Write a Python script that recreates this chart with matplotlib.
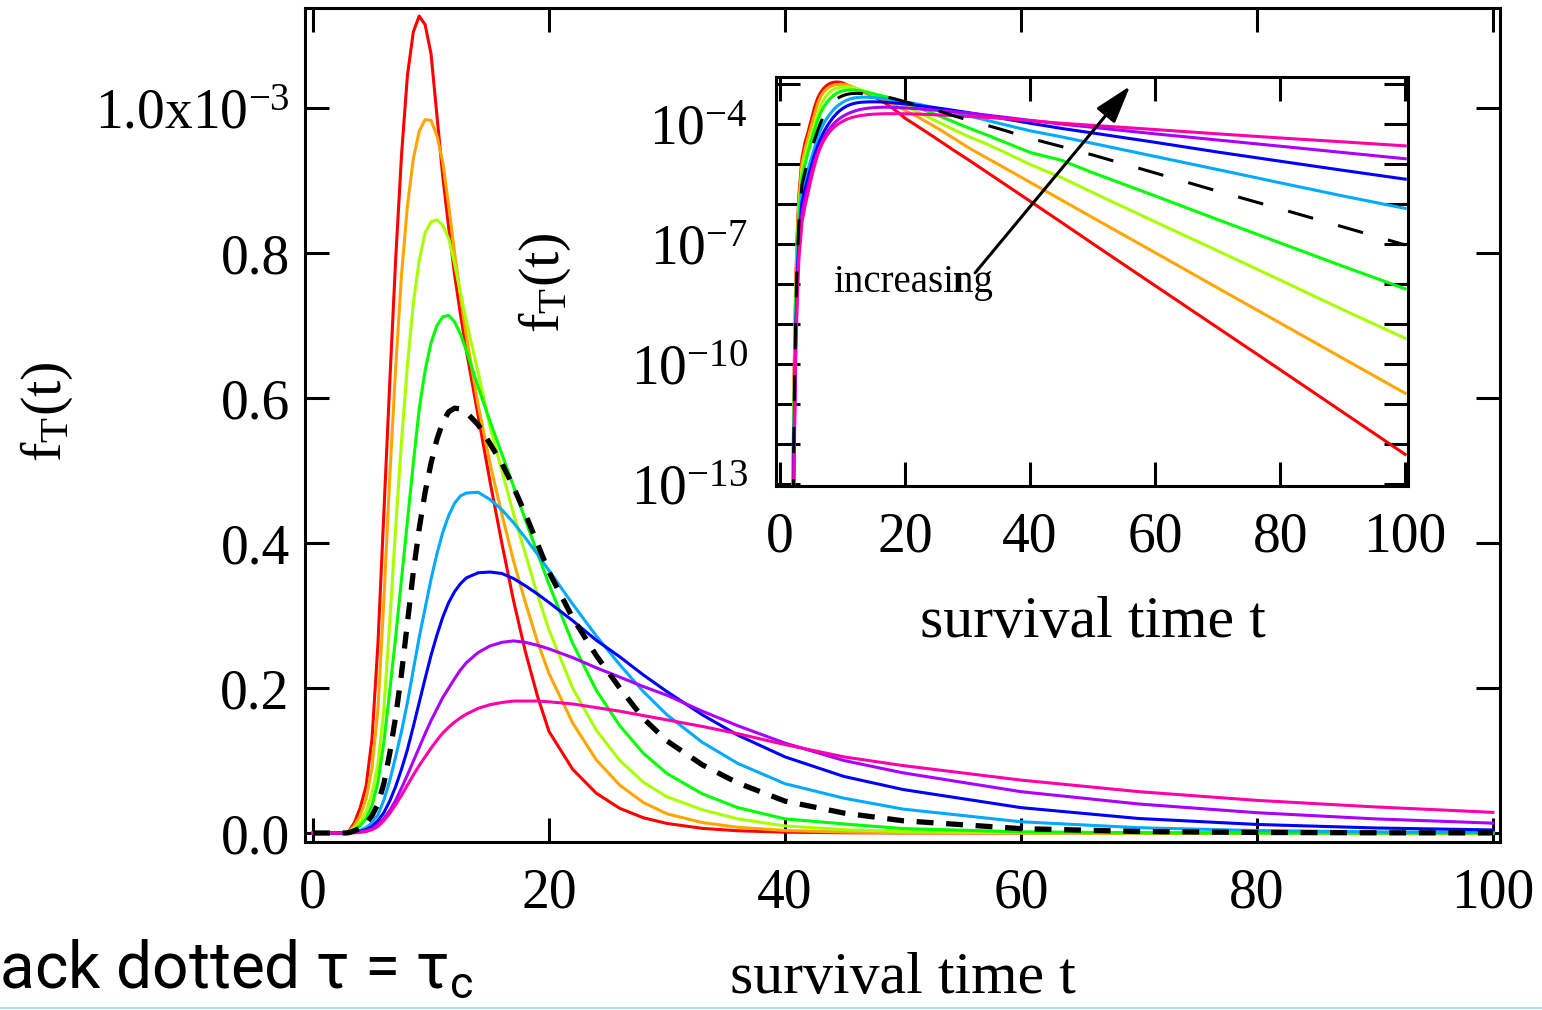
import numpy as np
import matplotlib
matplotlib.use("Agg")
import matplotlib.pyplot as plt
from matplotlib.lines import Line2D
from matplotlib.ticker import NullLocator

plt.rcParams['font.family'] = 'Liberation Serif'
plt.rcParams['mathtext.default'] = 'regular'

# survival time grid
t = [0, 1, 2, 2.25, 2.5, 2.75, 3, 3.5, 4, 4.5, 5, 5.5, 6, 6.5, 7, 7.5, 8, 8.5, 9, 9.5,
     10, 10.5, 11, 11.5, 12, 12.5, 13, 14, 15, 16, 17, 18, 19, 20, 22, 24, 26, 28, 30,
     33, 36, 40, 45, 50, 60, 70, 80, 90, 100]

# f_T(t) in units of 1e-3, one array per tau (smallest tau first)
f_red = [0, 0, 2.5e-11, 6e-8, 1e-5, 2e-4, 1.6e-3, 0.014, 0.035, 0.065, 0.13, 0.26, 0.44, 0.62,
         0.79, 0.935, 1.045, 1.105, 1.127, 1.115, 1.075, 0.99, 0.905, 0.835, 0.77, 0.715, 0.665,
         0.575, 0.485, 0.40, 0.32, 0.25, 0.19, 0.14, 0.088, 0.055, 0.034, 0.021, 0.0132,
         0.0064, 0.0031, 0.00118, 0.00035, 0.000103, 9.1e-6, 8.1e-7, 7.2e-8, 6.3e-9, 5.5e-10]
f_orange = [0, 0, 1.2e-11, 3.5e-8, 6e-6, 1.4e-4, 1.1e-3, 0.01, 0.024, 0.047, 0.09, 0.17, 0.32,
            0.49, 0.64, 0.77, 0.865, 0.93, 0.968, 0.984, 0.983, 0.962, 0.925, 0.865, 0.80, 0.74,
            0.685, 0.59, 0.51, 0.44, 0.375, 0.318, 0.265, 0.22, 0.152, 0.101, 0.066, 0.042,
            0.0265, 0.0144, 0.0079, 0.0035, 0.00127, 0.00046, 6.1e-5, 8.0e-6, 1.06e-6, 1.4e-7,
            1.86e-8]
f_lime = [0, 0, 6e-12, 2e-8, 4e-6, 9e-5, 7.5e-4, 7e-3, 0.015, 0.03, 0.055, 0.095, 0.17, 0.29,
          0.42, 0.54, 0.645, 0.73, 0.79, 0.828, 0.843, 0.846, 0.838, 0.82, 0.785, 0.745, 0.705,
          0.635, 0.56, 0.5, 0.44, 0.385, 0.33, 0.28, 0.2, 0.142, 0.1, 0.07, 0.05, 0.032, 0.0195,
          0.0098, 0.0046, 0.00195, 0.00036, 6.8e-5, 1.26e-5, 2.3e-6, 4.4e-7]
f_green = [0, 0, 3e-12, 1e-8, 2.5e-6, 6e-5, 5e-4, 4.5e-3, 0.01, 0.02, 0.038, 0.07, 0.125, 0.195,
           0.27, 0.35, 0.43, 0.51, 0.585, 0.638, 0.676, 0.70, 0.712, 0.714, 0.705, 0.688, 0.665,
           0.615, 0.568, 0.523, 0.478, 0.432, 0.387, 0.343, 0.262, 0.197, 0.148, 0.11, 0.082,
           0.054, 0.035, 0.0195, 0.0125, 0.0061, 0.0016, 0.00041, 0.000107, 2.8e-5, 7.6e-6]
f_crit = [0, 0, 1.5e-12, 6e-9, 1.5e-6, 4e-5, 3.2e-4, 3e-3, 0.0065, 0.013, 0.024, 0.04, 0.068,
          0.11, 0.16, 0.22, 0.29, 0.36, 0.42, 0.47, 0.51, 0.543, 0.567, 0.581, 0.586, 0.585,
          0.58, 0.563, 0.537, 0.51, 0.477, 0.44, 0.40, 0.36, 0.297, 0.245, 0.2, 0.158, 0.127,
          0.094, 0.069, 0.044, 0.0275, 0.0169, 0.006, 0.0021, 0.00076, 0.00027, 9.5e-5]
f_sky = [0, 0, 8e-13, 3e-9, 9e-7, 2.5e-5, 2e-4, 1.8e-3, 0.0038, 0.0075, 0.014, 0.025, 0.045,
         0.072, 0.105, 0.14, 0.18, 0.225, 0.27, 0.31, 0.35, 0.385, 0.415, 0.438, 0.455, 0.465,
         0.469, 0.47, 0.46, 0.446, 0.428, 0.407, 0.385, 0.362, 0.316, 0.272, 0.232, 0.195,
         0.163, 0.125, 0.096, 0.068, 0.048, 0.033, 0.0155, 0.0073, 0.0034, 0.0016, 0.00078]
f_blue = [0, 0, 4e-13, 1.6e-9, 5e-7, 1.5e-5, 1.2e-4, 1.1e-3, 0.0024, 0.0048, 0.009, 0.017,
          0.028, 0.044, 0.064, 0.088, 0.115, 0.147, 0.18, 0.213, 0.245, 0.273, 0.298, 0.318,
          0.333, 0.344, 0.352, 0.359, 0.36, 0.358, 0.351, 0.341, 0.33, 0.318, 0.293, 0.266,
          0.243, 0.218, 0.195, 0.163, 0.135, 0.105, 0.078, 0.06, 0.035, 0.02, 0.0118, 0.007,
          0.0042]
f_purple = [0, 0, 2e-13, 8e-10, 3e-7, 8e-6, 7e-5, 6e-4, 0.0014, 0.003, 0.006, 0.012, 0.02,
            0.031, 0.045, 0.062, 0.08, 0.099, 0.118, 0.137, 0.155, 0.171, 0.187, 0.2, 0.213,
            0.225, 0.235, 0.249, 0.258, 0.263, 0.265, 0.263, 0.259, 0.254, 0.242, 0.228, 0.215,
            0.202, 0.19, 0.168, 0.148, 0.124, 0.1, 0.083, 0.057, 0.04, 0.028, 0.0195, 0.0136]
f_pink = [0, 0, 8e-14, 3e-10, 1.5e-7, 4e-6, 4e-5, 3.5e-4, 0.0009, 0.002, 0.0045, 0.009, 0.017,
          0.027, 0.039, 0.052, 0.066, 0.08, 0.093, 0.105, 0.117, 0.128, 0.138, 0.146, 0.153,
          0.159, 0.164, 0.172, 0.177, 0.18, 0.182, 0.182, 0.182, 0.181, 0.178, 0.173, 0.168,
          0.162, 0.156, 0.147, 0.137, 0.122, 0.105, 0.093, 0.073, 0.057, 0.045, 0.036, 0.0285]

curves = [(f_red, '#ff0000'), (f_orange, '#ffa500'), (f_lime, '#a8ff00'),
          (f_green, '#00ff00'), (f_sky, '#00aaff'), (f_blue, '#0000ff'),
          (f_purple, '#aa00ff'), (f_pink, '#ff00aa')]

x_ticks = [0, 20, 40, 60, 80, 100]
y_ticks = [0.0, 0.2, 0.4, 0.6, 0.8, 1.0]
y_ticklabels = ['0.0', '0.2', '0.4', '0.6', '0.8', '1.0x10$^{-3}$']
log_decades = list(range(-13, -2))
log_labelled = [-4, -7, -10, -13]

W, H = 1542, 1010
fig = plt.figure(figsize=(W / 100, H / 100), dpi=100)


def px_box(x0, y0, x1, y1):
    return [x0 / W, 1 - y1 / H, (x1 - x0) / W, (y1 - y0) / H]


def style_axes(a, xpad, ypad):
    for s in a.spines.values():
        s.set_linewidth(2.2)
    a.tick_params(direction='in', length=17, width=2.2, top=True, right=True,
                  labelsize=40, colors='k')
    a.tick_params(axis='x', pad=xpad)
    a.tick_params(axis='y', pad=ypad)


# main linear panel
ax = fig.add_axes(px_box(305, 8, 1500, 842))
t_arr = np.array(t)
for f, c in curves:
    ax.plot(t_arr, f, color=c, lw=2.2)
ax.plot(t_arr, f_crit, color='k', lw=3.8, dashes=(3.2, 2.4), zorder=5)
ax.set_xlim(-0.68, 100.6)
ax.set_ylim(-0.0124, 1.138)
ax.set_xticks(x_ticks)
ax.set_yticks(y_ticks)
ax.set_yticklabels(y_ticklabels)
style_axes(ax, 18, 11)

# inset, same curves on a log axis
axin = fig.add_axes(px_box(775.7, 77.3, 1408.3, 486))
for f, c in curves:
    v = np.array(f) * 1e-3
    axin.plot(t_arr, np.where(v > 0, v, np.nan), color=c, lw=2.2)
v = np.array(f_crit) * 1e-3
axin.plot(t_arr, np.where(v > 0, v, np.nan), color='k', lw=2.2, dashes=(8.5, 8.5), zorder=5)
axin.set_yscale('log')
axin.set_xlim(-0.7, 100.5)
axin.set_ylim(10 ** -13.05, 10 ** -2.83)
axin.set_xticks(x_ticks)
axin.set_yticks([10.0 ** k for k in log_decades])
axin.set_yticklabels(['10$^{%d}$' % k if k in log_labelled else '' for k in log_decades])
axin.yaxis.set_minor_locator(NullLocator())
style_axes(axin, 18, 20)

axin.annotate('', xy=(56, 10 ** -3.05), xytext=(31.2, 10 ** -7.72),
              arrowprops=dict(arrowstyle='-|>,head_length=0.8,head_width=0.25',
                              mutation_scale=29, lw=2.2, color='k',
                              shrinkA=0, shrinkB=0))

# axis titles
fig.text(47 / W, 1 - 412 / H, 'f$_T$(t)', rotation=90, ha='center', va='center', size=42)
fig.text(903 / W, 1 - 993 / H, 'survival time t', ha='center', va='baseline', size=43)
fig.text(545 / W, 1 - 283 / H, 'f$_T$(t)', rotation=90, ha='center', va='center', size=42)
fig.text(1093 / W, 1 - 637 / H, 'survival time t', ha='center', va='baseline', size=43)

fig.text(833 / W, 1 - 291.7 / H, 'increasing', size=28, va='baseline')
fig.text(952 / W, 1 - 291.7 / H, '\u0131', size=28, va='baseline', weight='bold')

fig.text(-52 / W, 1 - 988 / H, 'black dotted \u03c4 = \u03c4$_c$', size=46,
         family=['Roboto', 'DejaVu Sans'], va='baseline', ha='left')
fig.add_artist(Line2D([0, 1], [1 - 1007.5 / H] * 2, transform=fig.transFigure,
                      color='#a6d8ea', lw=1.2))

fig.savefig('out.png', dpi=100)
